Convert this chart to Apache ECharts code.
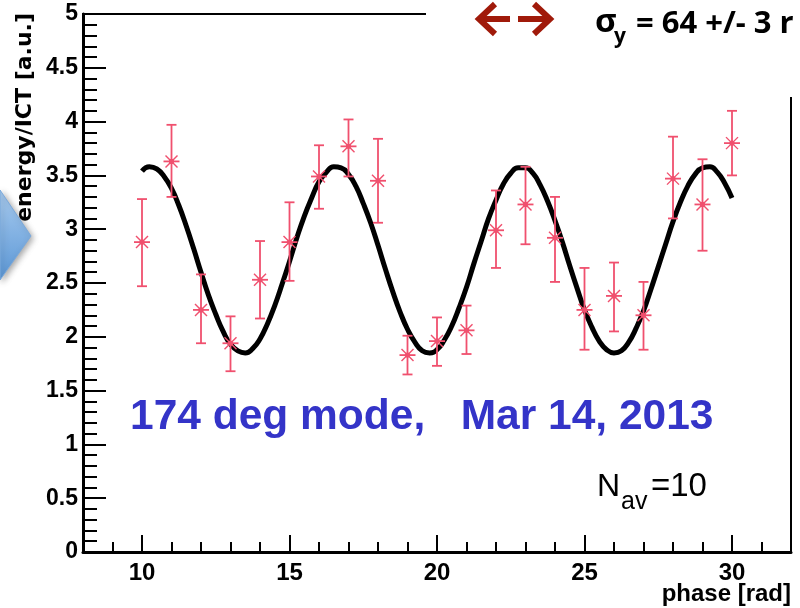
<!DOCTYPE html>
<html>
<head>
<meta charset="utf-8">
<script src="https://cdn.jsdelivr.net/npm/echarts@6/dist/echarts.min.js"></script>
<style>html,body{margin:0;padding:0;background:#fff}#c{width:800px;height:608px}</style>
</head>
<body>
<div id="c"></div>
<script>
// ---- data ----
const phase   = [10, 11, 12, 13, 14, 15, 16, 17, 18, 19, 20, 21, 22, 23, 24, 25, 26, 27, 28, 29, 30];
const energy  = [2.88, 3.63, 2.25, 1.94, 2.53, 2.88, 3.49, 3.77, 3.45, 1.83, 1.96, 2.06, 2.99, 3.23, 2.92, 2.25, 2.38, 2.20, 3.47, 3.23, 3.80];
const errLow  = [2.47, 3.30, 1.94, 1.68, 2.17, 2.52, 3.19, 3.49, 3.06, 1.65, 1.73, 1.84, 2.64, 2.86, 2.51, 1.88, 2.05, 1.88, 3.10, 2.80, 3.50];
const errHigh = [3.28, 3.97, 2.58, 2.19, 2.89, 3.25, 3.78, 4.02, 3.84, 2.01, 2.18, 2.29, 3.36, 3.58, 3.30, 2.64, 2.69, 2.51, 3.86, 3.65, 4.10];

// fitted curve, every 0.25 rad
const fitPhase  = [10, 10.25, 10.5, 10.75, 11, 11.25, 11.5, 11.75, 12, 12.25, 12.5, 12.75, 13, 13.25, 13.5, 13.75,
                   14, 14.25, 14.5, 14.75, 15, 15.25, 15.5, 15.75, 16, 16.25, 16.5, 16.75, 17, 17.25, 17.5, 17.75,
                   18, 18.25, 18.5, 18.75, 19, 19.25, 19.5, 19.75, 20, 20.25, 20.5, 20.75, 21, 21.25, 21.5, 21.75,
                   22, 22.25, 22.5, 22.75, 23, 23.25, 23.5, 23.75, 24, 24.25, 24.5, 24.75, 25, 25.25, 25.5, 25.75,
                   26, 26.25, 26.5, 26.75, 27, 27.25, 27.5, 27.75, 28, 28.25, 28.5, 28.75, 29, 29.25, 29.5, 29.75, 30];
const fitEnergy = [3.54, 3.58, 3.56, 3.49, 3.38, 3.22, 3.03, 2.82, 2.60, 2.39, 2.21, 2.05, 1.93, 1.87, 1.85, 1.89,
                   1.98, 2.12, 2.29, 2.49, 2.70, 2.92, 3.12, 3.29, 3.44, 3.53, 3.58, 3.57, 3.51, 3.40, 3.24, 3.06,
                   2.85, 2.63, 2.42, 2.23, 2.07, 1.95, 1.87, 1.85, 1.88, 1.97, 2.10, 2.27, 2.46, 2.68, 2.89, 3.10,
                   3.27, 3.42, 3.52, 3.57, 3.57, 3.52, 3.41, 3.26, 3.08, 2.88, 2.66, 2.45, 2.25, 2.09, 1.96, 1.88,
                   1.85, 1.87, 1.95, 2.08, 2.24, 2.44, 2.65, 2.86, 3.07, 3.25, 3.40, 3.51, 3.57, 3.58, 3.53, 3.43, 3.29];

const xMajorTicks = [10, 15, 20, 25, 30];

const chart = echarts.init(document.getElementById('c'), null, {renderer: 'canvas'});
const RED = '#f0506e';
const ROOT_FONT = 'Liberation Sans';

function renderPoint(params, api) {
  const x = api.value(0);
  const c = api.coord([x, api.value(1)]);
  const lo = api.coord([x, api.value(2)]);
  const hi = api.coord([x, api.value(3)]);
  const st = {stroke: RED, lineWidth: 1.8};
  const cap = 5, h = 8, d = 6;
  return {
    type: 'group',
    children: [
      {type: 'line', shape: {x1: c[0], y1: lo[1], x2: c[0], y2: hi[1]}, style: st},
      {type: 'line', shape: {x1: c[0] - cap, y1: lo[1], x2: c[0] + cap, y2: lo[1]}, style: st},
      {type: 'line', shape: {x1: c[0] - cap, y1: hi[1], x2: c[0] + cap, y2: hi[1]}, style: st},
      {type: 'line', shape: {x1: c[0] - h, y1: c[1], x2: c[0] + h, y2: c[1]}, style: st},
      {type: 'line', shape: {x1: c[0] - d, y1: c[1] - d, x2: c[0] + d, y2: c[1] + d}, style: {stroke: RED, lineWidth: 1.4}},
      {type: 'line', shape: {x1: c[0] - d, y1: c[1] + d, x2: c[0] + d, y2: c[1] - d}, style: {stroke: RED, lineWidth: 1.4}},
      {type: 'circle', shape: {cx: c[0], cy: c[1], r: 2.6}, style: {fill: RED}}
    ]
  };
}

const option = {
  backgroundColor: '#fff',
  animation: false,
  grid: {left: 83, right: 9, top: 14, bottom: 56, show: true, borderColor: '#000', borderWidth: 2, backgroundColor: 'transparent'},
  xAxis: [
    {
      type: 'value', min: 8, max: 32, interval: 1, position: 'bottom',
      axisLine: {show: true, onZero: false, lineStyle: {color: '#000', width: 3}},
      axisTick: {show: true, inside: true, length: 10, lineStyle: {color: '#000', width: 2}},
      axisLabel: {show: false},
      splitLine: {show: false}
    },
    {
      type: 'value', min: 8, max: 32, position: 'bottom',
      axisLine: {show: false, onZero: false},
      axisTick: {show: true, inside: true, length: 17, customValues: xMajorTicks, lineStyle: {color: '#000', width: 2}},
      axisLabel: {show: true, customValues: xMajorTicks, margin: 9, color: '#000', fontFamily: ROOT_FONT, fontWeight: 'bold', fontSize: 24},
      splitLine: {show: false}
    }
  ],
  yAxis: {
    type: 'value', min: 0, max: 5, interval: 0.5,
    axisLine: {show: true, onZero: false, lineStyle: {color: '#000', width: 3}},
    axisTick: {show: true, inside: true, length: 23, lineStyle: {color: '#000', width: 2}},
    minorTick: {show: true, splitNumber: 5, length: 14, lineStyle: {color: '#000', width: 2}},
    axisLabel: {show: true, margin: 5, color: '#000', fontFamily: ROOT_FONT, fontWeight: 'bold', fontSize: 23},
    splitLine: {show: false},
    minorSplitLine: {show: false}
  },
  series: [
    {
      type: 'line', xAxisIndex: 0, yAxisIndex: 0, smooth: true, showSymbol: false, z: 2,
      lineStyle: {color: '#000', width: 5},
      data: fitPhase.map((p, i) => [p, fitEnergy[i]])
    },
    {
      type: 'custom', xAxisIndex: 0, yAxisIndex: 0, z: 3,
      renderItem: renderPoint,
      encode: {x: 0, y: 1},
      data: phase.map((p, i) => [p, energy[i], errLow[i], errHigh[i]])
    }
  ],
  graphic: [
    // slide overlay box covering the top-right of the frame
    {type: 'rect', z: 100, shape: {x: 426, y: 0, width: 374, height: 97}, style: {fill: '#fff'}},
    {type: 'polyline', z: 101, shape: {points: [[510, 19], [479, 19]]}, style: {stroke: '#a01a0a', lineWidth: 6, fill: null}},
    {type: 'polyline', z: 101, shape: {points: [[495, 4], [479, 19], [495, 34]]}, style: {stroke: '#a01a0a', lineWidth: 6, fill: null}},
    {type: 'polyline', z: 101, shape: {points: [[518, 19], [550, 19]]}, style: {stroke: '#a01a0a', lineWidth: 6, fill: null}},
    {type: 'polyline', z: 101, shape: {points: [[534, 4], [550, 19], [534, 34]]}, style: {stroke: '#a01a0a', lineWidth: 6, fill: null}},
    {type: 'text', z: 101, x: 595, y: 23, style: {text: 'σ', font: 'bold 33px "Open Sans"', fill: '#000', verticalAlign: 'middle', align: 'left'}},
    {type: 'text', z: 101, x: 614, y: 37, style: {text: 'y', font: 'bold 21px "Open Sans"', fill: '#000', verticalAlign: 'middle', align: 'left'}},
    {type: 'text', z: 101, x: 636, y: 24, style: {text: '= 64 +/- 3 r', font: 'bold 31px "Open Sans"', fill: '#000', verticalAlign: 'middle', align: 'left'}},
    // blue chevron fragment at the left edge
    {type: 'polygon', z: 50, shape: {points: [[0, 190], [31, 236], [0, 280]]},
     style: {fill: new echarts.graphic.LinearGradient(0, 0, 0, 1, [{offset: 0, color: '#a8cbef'}, {offset: 1, color: '#5b97d6'}]),
             stroke: '#7aa9dc', lineWidth: 1, shadowBlur: 6, shadowColor: 'rgba(0,0,0,0.35)', shadowOffsetX: 2, shadowOffsetY: 2}},
    // axis titles
    {type: 'text', z: 60, x: 25, y: 13, rotation: Math.PI / 2,
     style: {text: 'energy/ICT [a.u.]', font: 'bold 22px "DejaVu Sans"', fill: '#000', align: 'right', verticalAlign: 'middle'}},
    {type: 'text', z: 60, x: 791, y: 594,
     style: {text: 'phase [rad]', font: 'bold 24px "Liberation Sans"', fill: '#000', align: 'right', verticalAlign: 'middle'}},
    // annotations
    {type: 'text', z: 60, x: 130, y: 417,
     style: {text: '174 deg mode,   Mar 14, 2013', font: 'bold 42.5px "Liberation Sans"', fill: '#3434c8', align: 'left', verticalAlign: 'middle'}},
    {type: 'text', z: 60, x: 597, y: 487, style: {text: 'N', font: '32px "Liberation Sans"', fill: '#000', align: 'left', verticalAlign: 'middle'}},
    {type: 'text', z: 60, x: 621, y: 502, style: {text: 'av', font: '25px "Liberation Sans"', fill: '#000', align: 'left', verticalAlign: 'middle'}},
    {type: 'text', z: 60, x: 651, y: 487, style: {text: '=10', font: '33px "Liberation Sans"', fill: '#000', align: 'left', verticalAlign: 'middle'}}
  ]
};
chart.setOption(option);
</script>
</body>
</html>
